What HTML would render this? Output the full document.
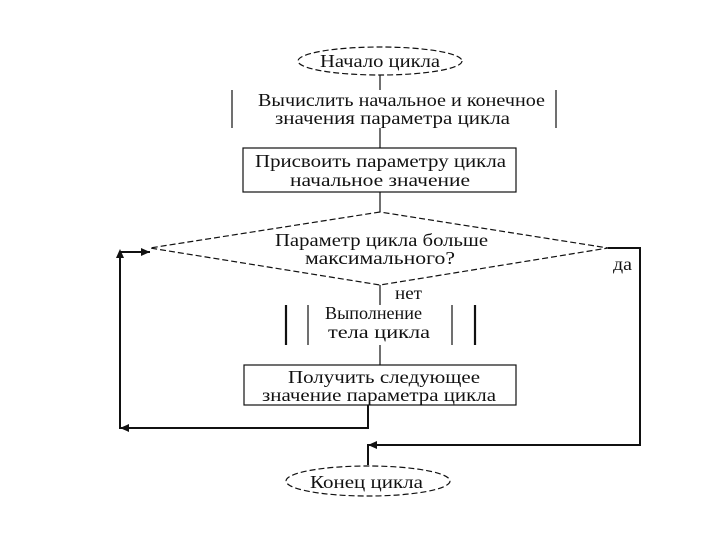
<!DOCTYPE html>
<html><head><meta charset="utf-8"><style>
body{margin:0;background:#fff}
svg text{font-family:"Liberation Serif",serif;font-size:18px;fill:#111}
</style></head><body>
<svg width="720" height="540" viewBox="0 0 720 540" xmlns="http://www.w3.org/2000/svg">
<g stroke="#111" fill="none" stroke-width="1.2">
<ellipse cx="380" cy="61" rx="82" ry="14" stroke-dasharray="6,3"/>
<line x1="380" y1="75" x2="380" y2="90"/>
<line x1="232" y1="90" x2="232" y2="128"/>
<line x1="556" y1="90" x2="556" y2="128"/>
<line x1="380" y1="128" x2="380" y2="148"/>
<rect x="243" y="148" width="273" height="44"/>
<line x1="380" y1="192" x2="380" y2="212"/>
<polygon points="380,212 150,248 380,285 608,248" stroke-dasharray="6,3"/>
<line x1="380" y1="285" x2="380" y2="305"/>
<line x1="286" y1="305" x2="286" y2="345" stroke-width="2.2"/>
<line x1="308" y1="305" x2="308" y2="345"/>
<line x1="452" y1="305" x2="452" y2="345"/>
<line x1="475" y1="305" x2="475" y2="345" stroke-width="2.2"/>
<line x1="380" y1="345" x2="380" y2="365"/>
<rect x="244" y="365" width="272" height="40"/>
<polyline points="368,405 368,428 120,428 120,252 150,252" stroke-width="2"/>
<polyline points="608,248 640,248 640,445 368,445 368,465" stroke-width="2"/>
<ellipse cx="368" cy="481" rx="82" ry="15" stroke-dasharray="6,3"/>
</g>
<g fill="#111">
<polygon points="150,252 141,248 141,256"/>
<polygon points="120,249 116,258 124,258"/>
<polygon points="120,428 129,424 129,432"/>
<polygon points="368,445 377,441 377,449"/>
</g>
<g lengthAdjust="spacingAndGlyphs">
<text x="320" y="67" textLength="120" lengthAdjust="spacingAndGlyphs">Начало цикла</text>
<text x="258" y="106" textLength="287" lengthAdjust="spacingAndGlyphs">Вычислить начальное и конечное</text>
<text x="275" y="124" textLength="235" lengthAdjust="spacingAndGlyphs">значения параметра цикла</text>
<text x="255" y="167" textLength="251" lengthAdjust="spacingAndGlyphs">Присвоить параметру цикла</text>
<text x="290" y="186" textLength="180" lengthAdjust="spacingAndGlyphs">начальное значение</text>
<text x="275" y="246" textLength="213" lengthAdjust="spacingAndGlyphs">Параметр цикла больше</text>
<text x="305" y="264" textLength="150" lengthAdjust="spacingAndGlyphs">максимального?</text>
<text x="395" y="299" textLength="27" lengthAdjust="spacingAndGlyphs">нет</text>
<text x="613" y="270" textLength="19" lengthAdjust="spacingAndGlyphs">да</text>
<text x="325" y="319" textLength="97" lengthAdjust="spacingAndGlyphs">Выполнение</text>
<text x="328" y="338" textLength="102" lengthAdjust="spacingAndGlyphs">тела цикла</text>
<text x="288" y="383" textLength="192" lengthAdjust="spacingAndGlyphs">Получить следующее</text>
<text x="262" y="401" textLength="234" lengthAdjust="spacingAndGlyphs">значение параметра цикла</text>
<text x="310" y="488" textLength="113" lengthAdjust="spacingAndGlyphs">Конец цикла</text>
</g>
</svg>
</body></html>
